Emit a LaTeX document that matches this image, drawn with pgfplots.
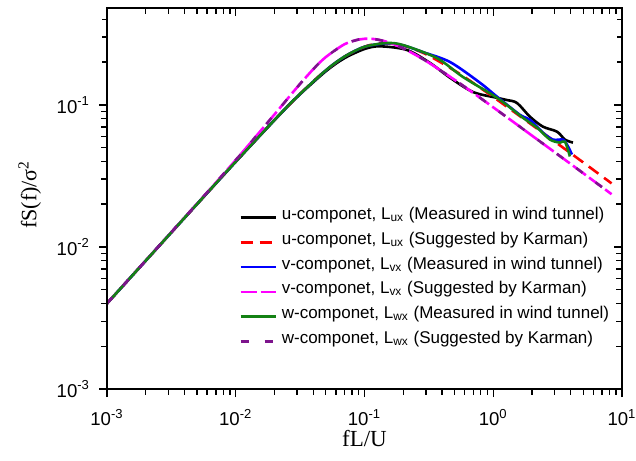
\documentclass[border=0pt]{standalone}
\usepackage{fontspec}
\setmainfont{Liberation Sans}
\newfontfamily\seriffont{Liberation Serif}
\usepackage{pgfplots}
\usepackage{pgfplotstable}
\pgfplotsset{compat=1.18}

\definecolor{wgreen}{RGB}{20,130,20}
\definecolor{wpurple}{RGB}{125,20,140}
\definecolor{vmagenta}{RGB}{255,0,255}

% von Karman spectrum, longitudinal component
\pgfplotstableread{
n S
0.001 0.00400
0.002 0.00800
0.005 0.01997
0.01 0.03977
0.02 0.07816
0.03 0.1140
0.04 0.1463
0.05 0.1746
0.07 0.2185
0.1 0.2560
0.12 0.2672
0.15 0.2712
0.2 0.2612
0.3 0.2271
0.5 0.1742
0.7 0.1423
1 0.1136
1.5 0.0872
2 0.0722
3 0.0552
5 0.0393
8.3 0.0280
}\karmanu

% von Karman spectrum, lateral / vertical components
\pgfplotstableread{
n S
0.001 0.00400
0.002 0.00801
0.005 0.02012
0.01 0.04087
0.02 0.08556
0.03 0.1329
0.04 0.1781
0.05 0.2165
0.07 0.2669
0.09 0.2880
0.1 0.2915
0.12 0.2898
0.15 0.2771
0.2 0.2497
0.3 0.2037
0.5 0.1501
0.7 0.1212
1 0.0960
1.5 0.0735
2 0.0607
3 0.0464
5 0.0330
8.3 0.0235
}\karmanvw

% wind tunnel measurements
\pgfplotstableread{
n S
0.001 0.0040
0.002 0.0080
0.005 0.0200
0.01 0.0398
0.02 0.0780
0.03 0.1135
0.05 0.172
0.07 0.213
0.1 0.247
0.132 0.258
0.214 0.243
0.323 0.197
0.462 0.155
0.697 0.123
1.07 0.112
1.28 0.108
1.53 0.103
1.93 0.0824
2.43 0.0702
3.13 0.0647
3.61 0.0569
4.16 0.0542
}\measu

\pgfplotstableread{
n S
0.001 0.0040
0.002 0.0080
0.005 0.0200
0.01 0.0398
0.02 0.0782
0.03 0.1140
0.05 0.1746
0.07 0.2185
0.1 0.2560
0.15 0.2710
0.2 0.2620
0.284 0.2350
0.462 0.200
0.789 0.143
1.07 0.114
1.61 0.0851
1.93 0.0785
2.43 0.0637
2.91 0.0569
3.48 0.0569
3.74 0.0525
4.09 0.0447
}\measv

\pgfplotstableread{
n S
0.001 0.0040
0.002 0.0080
0.005 0.0200
0.01 0.0398
0.02 0.0782
0.03 0.1140
0.05 0.1746
0.07 0.2185
0.1 0.2560
0.15 0.2720
0.2 0.2630
0.366 0.213
0.582 0.157
1.07 0.112
1.70 0.0811
2.19 0.069
2.76 0.0569
3.30 0.0542
3.61 0.055
3.94 0.0433
}\measw

\pgfplotsset{
  /pgfplots/decade ticks/.style={
    xtick={1e-3,1e-2,1e-1,1,10},
    ytick={1e-3,1e-2,1e-1},
    extra x ticks={2e-3,3e-3,4e-3,5e-3,6e-3,7e-3,8e-3,9e-3,2e-2,3e-2,4e-2,5e-2,6e-2,7e-2,8e-2,9e-2,0.2,0.3,0.4,0.5,0.6,0.7,0.8,0.9,2,3,4,5,6,7,8,9},
    extra y ticks={2e-3,3e-3,4e-3,5e-3,6e-3,7e-3,8e-3,9e-3,2e-2,3e-2,4e-2,5e-2,6e-2,7e-2,8e-2,9e-2,0.2,0.3,0.4},
    extra x tick labels={}, extra y tick labels={},
    extra x tick style={major tick length=2.3pt},
    extra y tick style={major tick length=2.3pt},
  },
}

\begin{document}
\begin{tikzpicture}
\useasboundingbox (-53.5pt,-35.5pt) rectangle (264.5pt,194.5pt);
\begin{loglogaxis}[
  scale only axis, width=257.5pt, height=190.5pt,
  xmin=1e-3, xmax=10, ymin=1e-3, ymax=0.48,
  at={(0pt,0pt)}, anchor=south west,
  axis line style={line width=0.8pt},
  major tick length=4pt,
  tick style={black, line width=0.7pt},
  decade ticks,
  tick align=outside, xtick pos=left, ytick pos=left,
  xticklabels={10\textsuperscript{-3},10\textsuperscript{-2},10\textsuperscript{-1},10\textsuperscript{0},10\textsuperscript{1}},
  yticklabels={10\textsuperscript{-3},10\textsuperscript{-2},10\textsuperscript{-1}},
  tick label style={font=\fontsize{9.3}{11}\selectfont},
  xticklabel style={anchor=north, yshift=-2.5pt},
  yticklabel style={anchor=east, xshift=-1pt},
  xlabel={\seriffont fL/U},
  xlabel style={font=\fontsize{11.5}{13}\selectfont, at={(axis description cs:0.5,-0.13)}, anchor=center},
  ylabel={\seriffont fS(f)/σ\textsuperscript{2}},
  ylabel style={font=\fontsize{11}{13}\selectfont, at={(axis description cs:-0.150,0.51)}, anchor=center},
  legend image code/.code={\draw[#1] (0pt,0pt) -- (17.5pt,0pt);},
  legend style={at={(0.256,0.484)}, anchor=north west, draw=none, fill=none,
    font=\fontsize{8.5}{10}\selectfont, inner sep=0pt, row sep=0pt, column sep=2.5pt,
    nodes={inner sep=0pt, text height=7.2pt, text depth=5.2pt}},
  legend cell align=left,
  every axis plot/.append style={line width=1.3pt},
]
\addplot[black, smooth] table[x=n, y=S] {\measu};
\addlegendentry{u-componet, L\textsubscript{ux} (Measured in wind tunnel)}
\addplot[red, smooth, dash pattern=on 6pt off 3.5pt] table[x=n, y=S] {\karmanu};
\addlegendentry{u-componet, L\textsubscript{ux} (Suggested by Karman)}
\addplot[blue, smooth] table[x=n, y=S] {\measv};
\addlegendentry{v-componet, L\textsubscript{vx} (Measured in wind tunnel)}
\addplot[vmagenta, smooth, dash pattern=on 8pt off 2pt] table[x=n, y=S] {\karmanvw};
\addlegendentry{v-componet, L\textsubscript{vx} (Suggested by Karman)}
\addplot[wgreen, smooth] table[x=n, y=S] {\measw};
\addlegendentry{w-componet, L\textsubscript{wx} (Measured in wind tunnel)}
\addplot[wpurple, smooth, dash pattern=on 4pt off 8pt] table[x=n, y=S] {\karmanvw};
\addlegendentry{w-componet, L\textsubscript{wx} (Suggested by Karman)}
\end{loglogaxis}
% top and right ticks point into the frame
\begin{loglogaxis}[
  scale only axis, width=257.5pt, height=190.5pt,
  xmin=1e-3, xmax=10, ymin=1e-3, ymax=0.48,
  at={(0pt,0pt)}, anchor=south west,
  axis line style={line width=0.8pt},
  major tick length=4pt,
  tick style={black, line width=0.7pt},
  decade ticks,
  tick align=inside, xtick pos=right, ytick pos=right,
  xticklabels={}, yticklabels={},
]
\addplot[draw=none] coordinates {(1e-3,1e-3) (10,0.48)};
\end{loglogaxis}
\end{tikzpicture}
\end{document}
